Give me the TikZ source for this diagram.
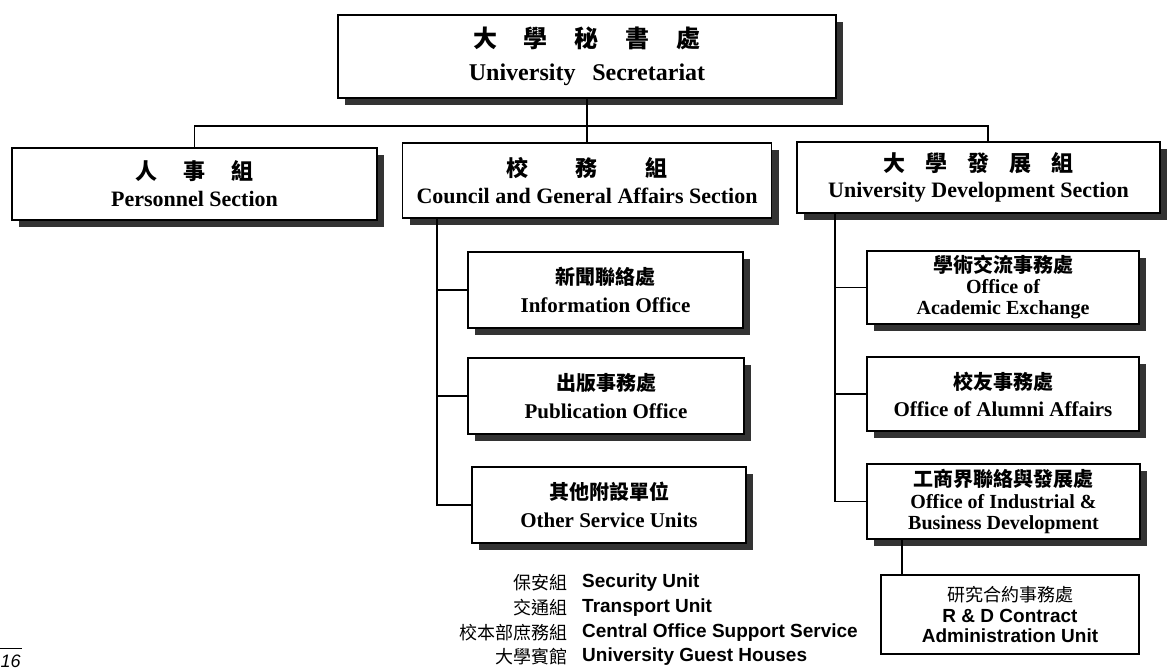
\documentclass[tikz,border=0pt]{standalone}
\usepackage{fontspec}
\setmainfont{Liberation Serif}
\newfontfamily\cjk{Noto Sans CJK TC}
\newfontfamily\arial{Liberation Sans}
\usetikzlibrary{shadows}
\begin{document}
\begin{tikzpicture}[x=1pt,y=-1pt,
  box/.style={draw, line width=1.4pt, fill=white, align=center, inner sep=0pt,
    drop shadow={shadow xshift=7pt, shadow yshift=-7pt, fill=black!80, opacity=1}},
  plainbox/.style={draw, line width=1.4pt, fill=white, align=center, inner sep=0pt},
  conn/.style={line width=1.3pt},
  listzh/.style={anchor=east, inner sep=0pt, font=\cjk\fontsize{18}{20}\selectfont},
  listen/.style={anchor=west, inner sep=0pt, font=\arial\bfseries\fontsize{19}{22}\selectfont}]
\useasboundingbox (0,0) rectangle (1170,670);

% top level
\node[box, minimum width=498pt, minimum height=83pt, font=\bfseries\fontsize{24}{33}\selectfont] (top) at (587,56.5)
  {{\cjk 大\hspace{27pt}學\hspace{27pt}秘\hspace{27pt}書\hspace{27pt}處}\\University\hspace{0.7em}Secretariat};

% sections
\node[box, minimum width=365pt, minimum height=72pt, font=\bfseries\fontsize{22}{27}\selectfont] (pers) at (194.5,184)
  {{\cjk 人\hspace{26pt}事\hspace{26pt}組}\\Personnel Section};
\node[box, minimum width=369pt, minimum height=75pt, font=\bfseries\fontsize{22}{27}\selectfont] (council) at (587,180.5)
  {{\cjk 校\hspace{48pt}務\hspace{48pt}組}\\Council and General Affairs Section};
\node[box, minimum width=363pt, minimum height=71pt, font=\bfseries\fontsize{22}{26}\selectfont] (dev) at (978.5,177.5)
  {{\cjk 大\hspace{20pt}學\hspace{20pt}發\hspace{20pt}展\hspace{20pt}組}\\University Development Section};

% council units
\node[box, minimum width=275pt, minimum height=76pt, font=\bfseries\fontsize{21}{28}\selectfont] (info) at (605.5,290)
  {{\cjk\fontsize{20}{28}\selectfont 新聞聯絡處}\\Information Office};
\node[box, minimum width=276pt, minimum height=76pt, font=\bfseries\fontsize{21}{28}\selectfont] (pub) at (606,396)
  {{\cjk\fontsize{20}{28}\selectfont 出版事務處}\\Publication Office};
\node[box, minimum width=274pt, minimum height=76pt, font=\bfseries\fontsize{21}{28}\selectfont] (other) at (609,505)
  {{\cjk\fontsize{20}{28}\selectfont 其他附設單位}\\Other Service Units};

% development units
\node[box, minimum width=272pt, minimum height=73pt, font=\bfseries\fontsize{20}{21}\selectfont] (acad) at (1003,287.5)
  {{\cjk 學術交流事務處}\\Office of\\Academic Exchange};
\node[box, minimum width=272pt, minimum height=74pt, font=\bfseries\fontsize{21}{27}\selectfont] (alum) at (1003,394)
  {{\cjk\fontsize{20}{27}\selectfont 校友事務處}\\Office of Alumni Affairs};
\node[box, minimum width=273pt, minimum height=75pt, font=\bfseries\fontsize{20}{21.5}\selectfont] (ind) at (1003.5,501.5)
  {{\cjk 工商界聯絡與發展處}\\Office of Industrial \&\\Business Development};
\node[plainbox, minimum width=258pt, minimum height=79pt, font=\arial\bfseries\fontsize{19}{20.5}\selectfont] (rd) at (1010,614.5)
  {{\cjk\mdseries\fontsize{18}{24}\selectfont 研究合約事務處}\\R \& D Contract\\Administration Unit};

% connectors
\coordinate (busR) at (988,126);
\draw[conn] (top.south) -- (council.north);
\draw[conn] (pers.north) |- (busR) -- (busR |- dev.north);

\coordinate (cv) at (437,0);
\draw[conn] (council.south -| cv) -- (cv |- other.west) -- (other.west);
\draw[conn] (cv |- info.west) -- (info.west);
\draw[conn] (cv |- pub.west) -- (pub.west);

\coordinate (dv) at (835,0);
\draw[conn] (dev.south -| dv) -- (dv |- ind.west) -- (ind.west);
\draw[conn] (dv |- acad.west) -- (acad.west);
\draw[conn] (dv |- alum.west) -- (alum.west);

\coordinate (rv) at (902,0);
\draw[conn] (ind.south -| rv) -- (rd.north -| rv);

% list of other service units
\node[listzh] (z1) at (568,583) {保安組};
\node[listen] (e1) at (582,583) {Security Unit};
\node[listzh] (z2) at (568,608) {交通組};
\node[listen] (e2) at (582,608) {Transport Unit};
\node[listzh] (z3) at (568,633) {校本部庶務組};
\node[listen] (e3) at (582,633) {Central Office Support Service};
\node[listzh] (z4) at (568,657) {大學賓館};
\node[listen] (e4) at (582,657) {University Guest Houses};

% page number
\coordinate (pl) at (0,648);
\coordinate (pr) at (22,648);
\draw[line width=1pt] (pl) -- (pr);
\node[anchor=base west, inner sep=0pt, font=\arial\itshape\fontsize{18}{20}\selectfont] (pg) at (0.5,667) {16};
\end{tikzpicture}
\end{document}
